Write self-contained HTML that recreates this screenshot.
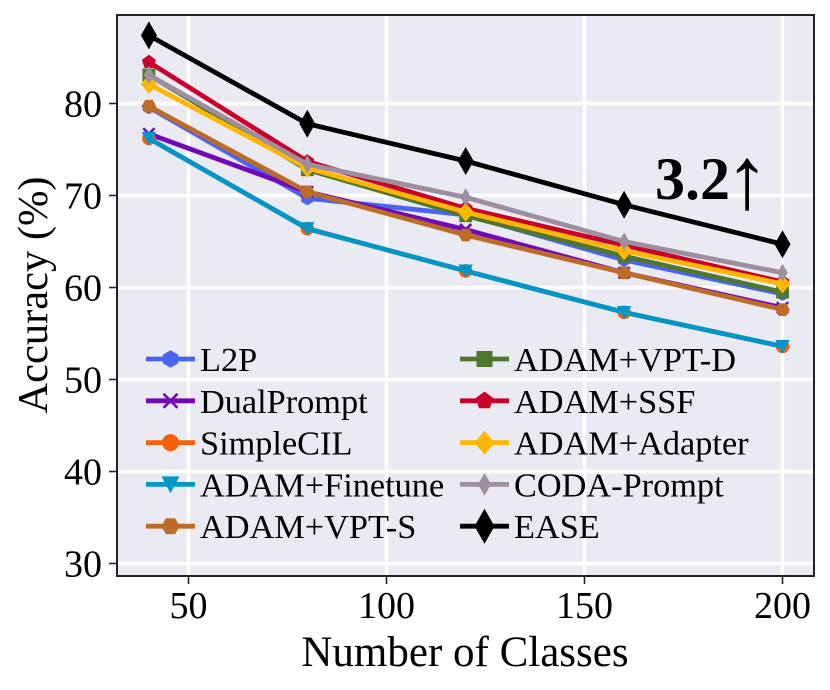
<!DOCTYPE html>
<html>
<head>
<meta charset="utf-8">
<title>Accuracy vs Number of Classes</title>
<style>
html,body{margin:0;padding:0;background:#fff;width:830px;height:690px;overflow:hidden}
svg{display:block}
text{font-family:"Liberation Serif",serif;fill:#000}
</style>
</head>
<body>
<svg id="chart" xmlns="http://www.w3.org/2000/svg" width="830" height="690" viewBox="0 0 830 690">
  <rect x="117" y="15" width="697" height="561" fill="#EAEAF2"/>
  <g id="grid"></g>
  <g id="series"></g>
  <g id="legend"></g>
  <rect x="117" y="15" width="697" height="561" fill="none" stroke="#222" stroke-width="2"/>
  <g id="ticks"></g>
  <text x="465" y="666" font-size="43" text-anchor="middle">Number of Classes</text>
  <text transform="translate(47,295) rotate(-90)" font-size="42.5" text-anchor="middle">Accuracy (%)</text>
  <text x="655" y="199" font-size="60" font-weight="bold">3.2</text>
  <text x="725" y="208" font-size="88">↑</text>
</svg>
<script>
const xCategories = [40, 80, 120, 160, 200];
const xTickValues = [50, 100, 150, 200];
const yTickValues = [30, 40, 50, 60, 70, 80];
const seriesNames = ["L2P", "DualPrompt", "SimpleCIL", "ADAM+Finetune", "ADAM+VPT-S", "ADAM+VPT-D", "ADAM+SSF", "ADAM+Adapter", "CODA-Prompt", "EASE"];
const l2pValues = [79.6, 69.7, 67.9, 63.0, 59.3];
const dualPromptValues = [76.7, 70.4, 66.3, 61.6, 57.8];
const simpleCilValues = [76.2, 66.4, 61.8, 57.3, 53.6];
const finetuneValues = [76.2, 66.4, 61.8, 57.3, 53.6];
const vptSValues = [79.7, 70.4, 65.7, 61.6, 57.6];
const vptDValues = [83.1, 72.8, 67.8, 63.4, 59.5];
const ssfValues = [84.5, 73.7, 68.6, 64.6, 60.6];
const adapterValues = [82.1, 73.0, 68.2, 64.0, 60.4];
const codaValues = [83.1, 73.4, 69.8, 65.0, 61.6];
const easeValues = [87.4, 77.8, 73.75, 69.0, 64.7];
const allSeries = [l2pValues, dualPromptValues, simpleCilValues, finetuneValues, vptSValues, vptDValues, ssfValues, adapterValues, codaValues, easeValues];
const seriesColors = ["#4A63F3", "#7209B7", "#F95F05", "#0096C7", "#BC6C25", "#4F772D", "#C9002B", "#FFB703", "#9D8F9E", "#000000"];
const seriesMarkers = ["hexV", "x", "circle", "tri", "hexH", "square", "pent", "diamond", "thin", "ease"];

const NS = "http://www.w3.org/2000/svg";
const xScale = v => 188.5 + (v - 50) * 3.96;
const yScale = v => 563.5 - (v - 30) * 9.2;

function make(tag, parent) {
  const el = document.createElementNS(NS, tag);
  parent.appendChild(el);
  return el;
}
function polyPoints(cx, cy, r, n, startDeg) {
  const pts = [];
  for (let i = 0; i < n; i++) {
    const a = (startDeg + i * 360 / n) * Math.PI / 180;
    pts.push((cx + r * Math.cos(a)).toFixed(2) + "," + (cy + r * Math.sin(a)).toFixed(2));
  }
  return pts.join(" ");
}
function drawMarker(parent, kind, cx, cy, color, label, s) {
  let el;
  if (kind === "circle") {
    el = make("circle", parent);
    el.setAttribute("cx", cx);
    el.setAttribute("cy", cy);
    el.setAttribute("r", 8.5 * s);
    el.setAttribute("fill", color);
  } else if (kind === "x") {
    const d = 7 * s;
    el = make("path", parent);
    el.setAttribute("d", `M${cx - d} ${cy - d}L${cx + d} ${cy + d}M${cx - d} ${cy + d}L${cx + d} ${cy - d}`);
    el.setAttribute("stroke", color);
    el.setAttribute("stroke-width", 2.6);
    el.setAttribute("fill", "none");
  } else if (kind === "square") {
    el = make("rect", parent);
    el.setAttribute("x", cx - 8 * s);
    el.setAttribute("y", cy - 8 * s);
    el.setAttribute("width", 16 * s);
    el.setAttribute("height", 16 * s);
    el.setAttribute("fill", color);
  } else {
    let pts = "";
    if (kind === "hexV") pts = polyPoints(cx, cy, 8.8 * s, 6, 90);
    if (kind === "hexH") pts = polyPoints(cx, cy, 9.2 * s, 6, 0);
    if (kind === "pent") pts = polyPoints(cx, cy, 9.2 * s, 5, -90);
    if (kind === "tri") pts = `${cx - 9 * s},${cy - 8 * s} ${cx + 9 * s},${cy - 8 * s} ${cx},${cy + 9 * s}`;
    if (kind === "diamond") pts = `${cx},${cy - 12 * s} ${cx + 10 * s},${cy} ${cx},${cy + 12 * s} ${cx - 10 * s},${cy}`;
    if (kind === "thin") pts = `${cx},${cy - 11.5 * s} ${cx + 6.5 * s},${cy} ${cx},${cy + 11.5 * s} ${cx - 6.5 * s},${cy}`;
    if (kind === "ease") pts = `${cx},${cy - 17.5 * s} ${cx + 10 * s},${cy} ${cx},${cy + 17.5 * s} ${cx - 10 * s},${cy}`;
    el = make("polygon", parent);
    el.setAttribute("points", pts);
    el.setAttribute("fill", color);
  }
  
  
}

const gridG = document.getElementById("grid");
const ticksG = document.getElementById("ticks");
xTickValues.forEach(v => {
  const g = make("line", gridG);
  g.setAttribute("x1", xScale(v));
  g.setAttribute("x2", xScale(v));
  g.setAttribute("y1", 15);
  g.setAttribute("y2", 576);
  g.setAttribute("stroke", "#fff");
  g.setAttribute("stroke-width", 3.4);
  
  
  const t = make("line", ticksG);
  t.setAttribute("x1", xScale(v));
  t.setAttribute("x2", xScale(v));
  t.setAttribute("y1", 577);
  t.setAttribute("y2", 584);
  t.setAttribute("stroke", "#222");
  t.setAttribute("stroke-width", 1.6);
  
  
  const l = make("text", ticksG);
  l.setAttribute("x", xScale(v));
  l.setAttribute("y", 618);
  l.setAttribute("font-size", 38);
  l.setAttribute("text-anchor", "middle");
  
  
  l.textContent = v;
});
yTickValues.forEach(v => {
  const g = make("line", gridG);
  g.setAttribute("x1", 117);
  g.setAttribute("x2", 814);
  g.setAttribute("y1", yScale(v));
  g.setAttribute("y2", yScale(v));
  g.setAttribute("stroke", "#fff");
  g.setAttribute("stroke-width", 3.4);
  
  
  const t = make("line", ticksG);
  t.setAttribute("x1", 109);
  t.setAttribute("x2", 116);
  t.setAttribute("y1", yScale(v));
  t.setAttribute("y2", yScale(v));
  t.setAttribute("stroke", "#222");
  t.setAttribute("stroke-width", 1.6);
  
  
  const l = make("text", ticksG);
  l.setAttribute("x", 102);
  l.setAttribute("y", yScale(v) + 13);
  l.setAttribute("font-size", 38);
  l.setAttribute("text-anchor", "end");
  
  
  l.textContent = v;
});

const seriesG = document.getElementById("series");
allSeries.forEach((values, i) => {
  const g = make("g", seriesG);
  
  
  const line = make("polyline", g);
  line.setAttribute("points", values.map((v, k) => xScale(xCategories[k]).toFixed(2) + "," + yScale(v).toFixed(2)).join(" "));
  line.setAttribute("fill", "none");
  line.setAttribute("stroke", seriesColors[i]);
  line.setAttribute("stroke-width", 4.8);
  line.setAttribute("stroke-linejoin", "round");
  
  
  values.forEach((v, k) => {
    drawMarker(g, seriesMarkers[i], xScale(xCategories[k]), yScale(v), seriesColors[i], "series-point", 0.8);
  });
});

const legendG = document.getElementById("legend");
seriesNames.forEach((name, i) => {
  const col = i < 5 ? 0 : 1;
  const row = i % 5;
  const x0 = col === 0 ? 146 : 460;
  const cy = 359 + row * 41.8;
  const g = make("g", legendG);
  
  
  const h = make("line", g);
  h.setAttribute("x1", x0);
  h.setAttribute("x2", x0 + 49);
  h.setAttribute("y1", cy);
  h.setAttribute("y2", cy);
  h.setAttribute("stroke", seriesColors[i]);
  h.setAttribute("stroke-width", 4.8);
  
  
  drawMarker(g, seriesMarkers[i], x0 + 24.5, cy, seriesColors[i], "legend-marker", 1);
  const t = make("text", g);
  t.setAttribute("x", col === 0 ? 200 : 514);
  t.setAttribute("y", cy + 12);
  t.setAttribute("font-size", 34.3);
  
  
  t.textContent = name;
});
</script>
</body>
</html>
